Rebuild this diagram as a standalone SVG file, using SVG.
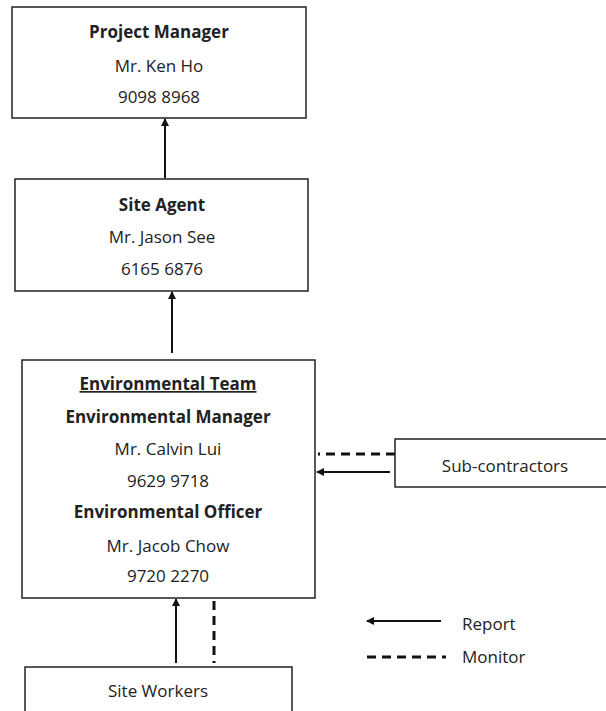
<svg xmlns="http://www.w3.org/2000/svg" width="606" height="711" viewBox="0 0 606 711">
<defs>
<marker id="ah" markerWidth="8" markerHeight="8" refX="7" refY="4" orient="auto" markerUnits="userSpaceOnUse">
<path d="M0,0 L8,4 L0,8 Z" fill="#111"/>
</marker>
<style>
.box{fill:#fff;stroke:#222;stroke-width:1.5}
text{font-family:"Open Sans","Liberation Sans",sans-serif;font-size:17px;fill:#222;text-anchor:middle}
.b{font-weight:bold}
.l{text-anchor:start}
.rep{stroke:#111;stroke-width:2;fill:none;marker-end:url(#ah)}
.mon{stroke:#111;stroke-width:3;fill:none;stroke-dasharray:9,6}
</style>
</defs>
<rect width="606" height="711" fill="#fff"/>
<g id="connectors">
<line class="rep" x1="165" y1="178" x2="165" y2="119"/>
<line class="rep" x1="172" y1="353" x2="172" y2="292"/>
<line class="mon" x1="395" y1="454" x2="318" y2="454"/>
<line class="rep" x1="390" y1="472" x2="317" y2="472"/>
<line class="rep" x1="176" y1="663" x2="176" y2="599"/>
<line class="mon" x1="214" y1="601" x2="214" y2="663"/>
</g>
<g id="project-manager">
<rect class="box" x="12" y="7" width="294" height="111"/>
<text class="b" x="159" y="38">Project Manager</text>
<text x="159" y="72">Mr. Ken Ho</text>
<text x="159" y="103">9098 8968</text>
</g>
<g id="site-agent">
<rect class="box" x="15" y="179" width="293" height="112"/>
<text class="b" x="162" y="211">Site Agent</text>
<text x="162" y="243">Mr. Jason See</text>
<text x="162" y="275">6165 6876</text>
</g>
<g id="environmental-team">
<rect class="box" x="22" y="360" width="293" height="238"/>
<text class="b" x="168" y="390" text-decoration="underline">Environmental Team</text>
<text class="b" x="168" y="423">Environmental Manager</text>
<text x="168" y="455">Mr. Calvin Lui</text>
<text x="168" y="487">9629 9718</text>
<text class="b" x="168" y="518">Environmental Officer</text>
<text x="168" y="552">Mr. Jacob Chow</text>
<text x="168" y="582">9720 2270</text>
</g>
<g id="sub-contractors">
<rect class="box" x="395" y="439" width="215" height="48"/>
<text x="505" y="472">Sub-contractors</text>
</g>
<g id="site-workers">
<rect class="box" x="25" y="667" width="267" height="50"/>
<text x="158" y="697">Site Workers</text>
</g>
<g id="legend">
<line class="rep" x1="441" y1="621" x2="367" y2="621"/>
<text class="l" x="462" y="630">Report</text>
<line class="mon" x1="367" y1="657" x2="446" y2="657"/>
<text class="l" x="462" y="663">Monitor</text>
</g>
</svg>
